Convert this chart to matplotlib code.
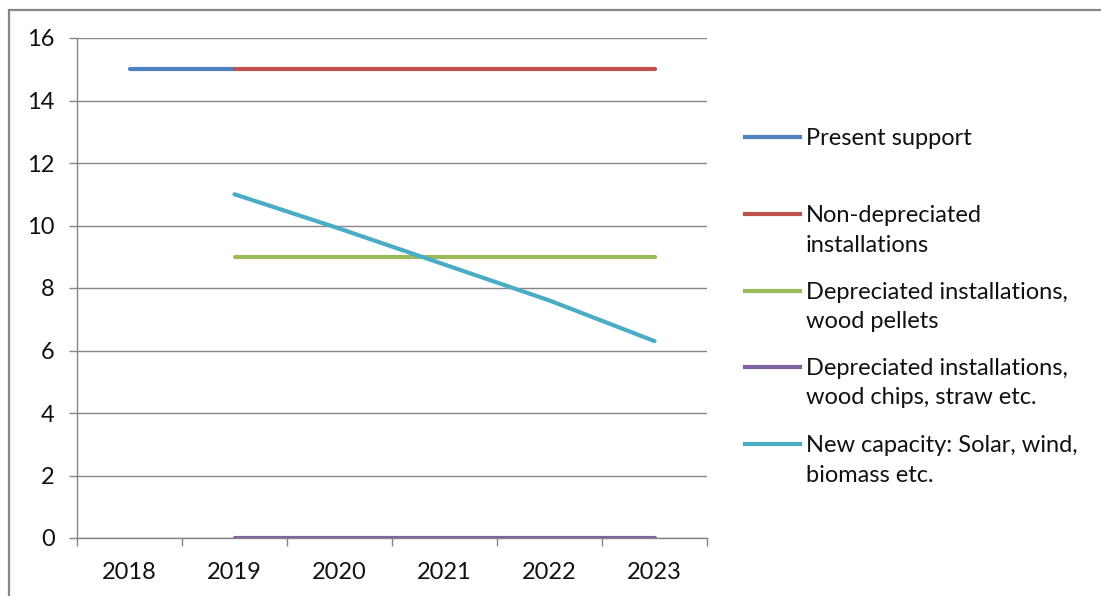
import matplotlib
matplotlib.use("Agg")
import matplotlib.pyplot as plt
from matplotlib.lines import Line2D
from matplotlib.patches import Rectangle

plt.rcParams['font.family'] = ['Lato', 'DejaVu Sans']

years = ['2018', '2019', '2020', '2021', '2022', '2023']
present_support = [15, 15, None, None, None, None]
non_depreciated = [None, 15, 15, 15, 15, 15]
depr_pellets = [None, 9, 9, 9, 9, 9]
depr_chips = [None, 0, 0, 0, 0, 0]
new_capacity = [None, 11, 9.9, 8.75, 7.6, 6.3]

names = ['Present support', 'Non-depreciated\ninstallations',
         'Depreciated installations,\nwood pellets',
         'Depreciated installations,\nwood chips, straw etc.',
         'New capacity: Solar, wind,\nbiomass etc.']
colors = ['#4F81BD', '#C0504D', '#9BBB59', '#8064A2', '#4BACC6']
series = [present_support, non_depreciated, depr_pellets, depr_chips, new_capacity]

W, H = 1101, 596
fig = plt.figure(figsize=(W / 100, H / 100), dpi=100)
ax = fig.add_axes([77 / W, 58 / H, 630 / W, 500 / H])

grid_c = '#868686'
txt_c = '#111111'
fs = 17
for y in range(0, 17, 2):
    ax.axhline(y, color=grid_c, lw=1.0, zorder=1)

x = list(range(len(years)))
for s, c in zip(series, colors):
    xs = [i for i, v in zip(x, s) if v is not None]
    ys = [v for v in s if v is not None]
    ax.plot(xs, ys, color=c, lw=3, solid_capstyle='round', zorder=3)

ax.set_xlim(-0.5, len(years) - 0.5)
ax.set_ylim(0, 16)
ax.set_yticks(range(0, 17, 2))
ax.set_xticks(x)
ax.set_xticklabels(years)
ax.set_xticks([i - 0.5 for i in range(len(years) + 1)], minor=True)
ax.tick_params(axis='x', which='major', length=0, pad=17, labelsize=fs, colors=txt_c)
ax.tick_params(axis='x', which='minor', length=6, width=1, color=grid_c, direction='out')
ax.tick_params(axis='y', length=6, width=1, color=grid_c, pad=10, labelsize=fs, labelcolor=txt_c)
for sp in ['top', 'right']:
    ax.spines[sp].set_visible(False)
for sp in ['left', 'bottom']:
    ax.spines[sp].set_color(grid_c)
    ax.spines[sp].set_linewidth(1.0)

# legend drawn by hand so the handle sits on the first text line
leg_y = [137, 214, 291, 367, 444]
for name, c, yy in zip(names, colors, leg_y):
    fy = 1 - yy / H
    fig.add_artist(Line2D([745 / W, 800 / W], [fy, fy], color=c, lw=3))
    fig.text(806 / W, 1 - (yy - 9) / H, name, fontsize=fs, color=txt_c,
             va='top', ha='left', linespacing=1.5)

fig.add_artist(Rectangle((9 / W, -0.1), 1.2, 1 - 10 / H + 0.1, fill=False,
                         edgecolor=grid_c, lw=1.6, transform=fig.transFigure))

fig.savefig('out.png', dpi=100)
